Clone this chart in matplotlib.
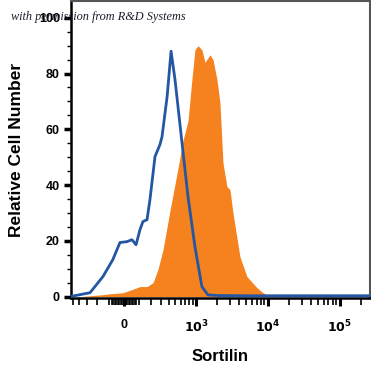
import numpy as np
import matplotlib
matplotlib.use('Agg')
from matplotlib import pyplot as plt
from matplotlib.ticker import FixedLocator, NullFormatter

# logicle-like display: arcsinh with ~1 decade between 0 and 10^3
C = 101.0

def fwd(x):
    return np.arcsinh(np.asarray(x, float) / (2 * C)) / np.log(10)

def inv(y):
    return 2 * C * np.sinh(np.asarray(y, float) * np.log(10))

# isotype control (open blue histogram)
ctrl_x = [-560, -549, -265, -146, -73, -26, 19, 52, 80, 108, 130, 163, 188, 235,
          287, 311, 376, 433, 497, 630, 770, 967, 1212, 1475, 2000, 5000, 264000]
ctrl_y = [0, 0, 1.4, 7.2, 13.3, 19.4, 19.7, 20.4, 18.6, 24, 26.9, 27.6, 34.8, 50.2,
          54.5, 57.3, 71.7, 88.0, 77.8, 55.2, 35.8, 17.9, 3.6, 0.6, 0.4, 0.3, 0.3]

# Sortilin stained (filled orange histogram)
stain_x = [-388, -146, -94, -6, 52, 108, 163, 216, 265, 323, 418, 531, 652, 770,
           877, 967, 1069, 1212, 1340, 1574, 1735, 1972, 2171, 2391, 2718, 2993,
           3294, 4120, 5153, 7100, 8600, 10760]
stain_y = [0, 0.7, 1.0, 1.4, 2.5, 3.6, 3.6, 5.0, 9.7, 16.8, 31, 44, 56, 63,
           78, 88.5, 90, 88.5, 84, 86.7, 85, 77.8, 69.5, 48, 39.4, 38.4,
           30, 14.3, 7.2, 3.2, 1.4, 0]

xtick_vals = [0, 1e3, 1e4, 1e5]
xtick_labels = ['0', r'$\mathbf{10^3}$', r'$\mathbf{10^4}$', r'$\mathbf{10^5}$']
ytick_vals = [0, 20, 40, 60, 80, 100]

fig = plt.figure(figsize=(3.71, 3.72), dpi=100)
ax = fig.add_axes([71 / 371, 1 - 298 / 372, 299 / 371, 297 / 372])

ax.fill_between(stain_x, stain_y, 0, color='#f5821f', lw=0, zorder=2)
ax.plot(ctrl_x, ctrl_y, color='#2356a3', lw=2.0, zorder=3, solid_joinstyle='round')

ax.set_xscale('function', functions=(fwd, inv))
ax.set_xlim(-531, 264000)
ax.set_ylim(-0.5, 106)

minors = [-v for v in range(100, 600, 100)] + [v for v in range(-80, 90, 10) if v != 0]
minors += list(range(100, 1000, 100)) + list(range(2000, 10000, 1000))
minors += list(range(20000, 100000, 10000)) + [200000]
ax.xaxis.set_major_locator(FixedLocator(xtick_vals))
ax.xaxis.set_minor_locator(FixedLocator(minors))
ax.xaxis.set_minor_formatter(NullFormatter())
ax.set_xticklabels(xtick_labels)

ax.yaxis.set_major_locator(FixedLocator(ytick_vals))
ax.yaxis.set_minor_locator(FixedLocator([v for v in range(5, 105, 5) if v % 20]))

for lab in ax.get_xticklabels() + ax.get_yticklabels():
    lab.set_fontfamily('Liberation Sans')
    lab.set_fontweight('bold')
    lab.set_fontsize(9)

ax.tick_params(axis='x', which='major', length=6, width=2.2, pad=9)
ax.tick_params(axis='x', which='minor', length=5, width=1.2)
ax.tick_params(axis='y', which='major', length=5, width=2.5, pad=3)
ax.tick_params(axis='y', which='minor', length=3, width=1.0)

for s in ['left', 'bottom']:
    ax.spines[s].set_linewidth(1.8)
    ax.spines[s].set_color('black')
for s in ['top', 'right']:
    ax.spines[s].set_linewidth(1.5)
    ax.spines[s].set_color('#555555')

ax.set_xlabel('Sortilin', fontfamily='Liberation Sans', fontweight='bold',
              fontsize=12, labelpad=10)
ax.set_ylabel('Relative Cell Number', fontfamily='Liberation Sans',
              fontweight='bold', fontsize=12.5, labelpad=11)

fig.text(11 / 371, 1 - 17 / 372, 'with permission from R&D Systems',
         fontfamily='Liberation Serif', fontstyle='italic', fontsize=8.8,
         color='#1c1c2c', va='center', ha='left', zorder=10)

fig.savefig('out.png', dpi=100)
